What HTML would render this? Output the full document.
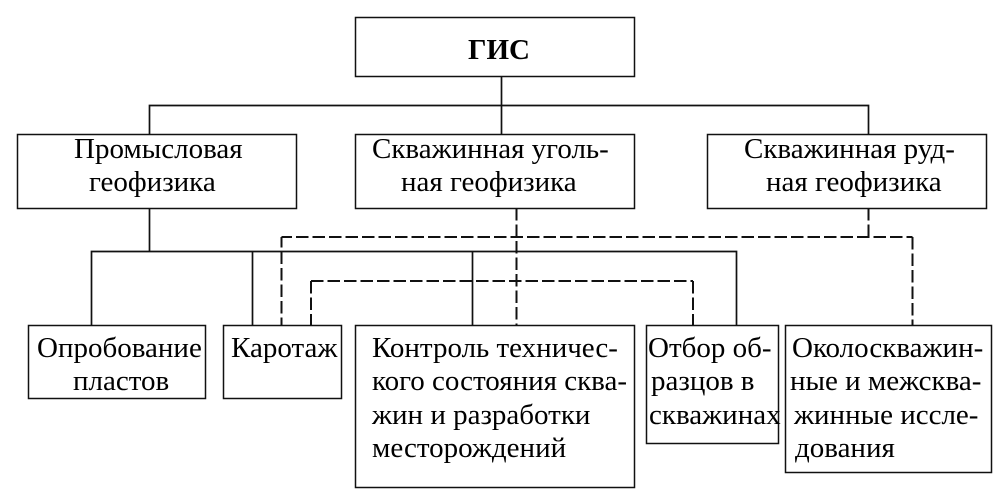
<!DOCTYPE html>
<html><head><meta charset="utf-8"><style>
html,body{margin:0;padding:0;background:#fff}
svg{display:block}
text{font-family:"Liberation Serif","DejaVu Serif",serif;font-size:29px;fill:#000}
.b{fill:#fff;stroke:#111;stroke-width:1.5}
.l{fill:none;stroke:#111;stroke-width:1.7}
.d{fill:none;stroke:#111;stroke-width:2;stroke-dasharray:12.5 4}
</style></head><body>
<svg width="997" height="501" viewBox="0 0 997 501" xmlns="http://www.w3.org/2000/svg">
<path class="l" d="M501.500 76V134M149.500 134V105.500H868.500V134"/>
<path class="l" d="M149.500 208V251.500M91.500 325V251.500H736.500V325M252.500 251.500V325M472.500 251.500V325"/>
<path class="d" d="M516.500 208V325"/>
<path class="d" d="M868.500 208V237"/>
<path class="d" style="stroke-dashoffset:2" d="M281.500 237H912.500"/>
<path class="d" style="stroke-dashoffset:2" d="M281.500 237V325"/>
<path class="d" d="M912.500 237V325"/>
<path class="d" d="M311 281H693"/>
<path class="d" d="M311 281V325"/>
<path class="d" d="M693 281V325"/>
<rect class="b" x="355.500" y="17.500" width="279" height="59"/>
<rect class="b" x="17.500" y="134.500" width="279" height="74"/>
<rect class="b" x="355.500" y="134.500" width="279" height="74"/>
<rect class="b" x="707.500" y="134.500" width="279" height="74"/>
<rect class="b" x="28.500" y="325.500" width="177" height="73"/>
<rect class="b" x="223.500" y="325.500" width="118" height="73"/>
<rect class="b" x="355.500" y="325.500" width="279" height="162"/>
<rect class="b" x="646.500" y="325.500" width="132" height="118"/>
<rect class="b" x="785.500" y="325.500" width="206" height="147"/>
<text x="468" y="59" font-weight="bold">ГИС</text>
<text x="74" y="158">Промысловая</text>
<text x="89" y="191">геофизика</text>
<text x="372" y="158">Скважинная уголь-</text>
<text x="401" y="191">ная геофизика</text>
<text x="744" y="158">Скважинная руд-</text>
<text x="766" y="191">ная геофизика</text>
<text x="37" y="357">Опробование</text>
<text x="73" y="390">пластов</text>
<text x="231" y="357">Каротаж</text>
<text x="372" y="357">Контроль техничес-</text>
<text x="372" y="390">кого состояния сква-</text>
<text x="372" y="424">жин и разработки</text>
<text x="372" y="457">месторождений</text>
<text x="648" y="357">Отбор об-</text>
<text x="651" y="390">разцов в</text>
<text x="649" y="424">скважинах</text>
<text x="792" y="357">Околоскважин-</text>
<text x="790" y="390">ные и межсква-</text>
<text x="794" y="424">жинные иссле-</text>
<text x="795" y="457">дования</text>
</svg>
</body></html>
